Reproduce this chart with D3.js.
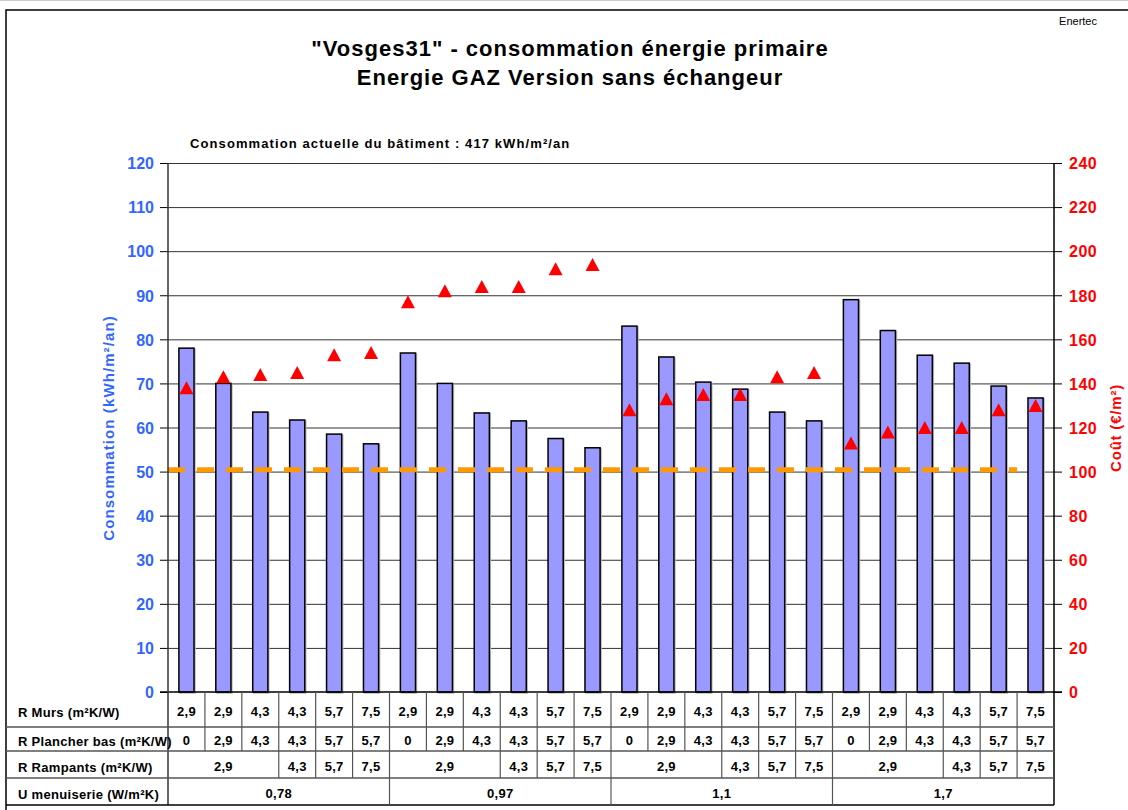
<!DOCTYPE html>
<html>
<head>
<meta charset="utf-8">
<script src="https://cdn.jsdelivr.net/npm/d3@7/dist/d3.min.js"></script>
<style>
  body { margin: 0; background: #fff; }
  svg { display: block; font-family: "Liberation Sans", Arial, sans-serif; }
  .tbl { font-size: 13px; font-weight: bold; fill: #000; letter-spacing: 0.3px; }
</style>
</head>
<body>
<div id="chart"></div>
<script>
// chart data
var consommation = [78, 70, 63.5, 61.7, 58.5, 56.3, 76.9, 70, 63.3, 61.5, 57.5, 55.4,
                    83, 76, 70.3, 68.7, 63.5, 61.5, 89, 82, 76.4, 74.6, 69.4, 66.7];
var cout = [138, 143, 144, 145, 153, 154, 177, 182, 184, 184, 192, 194,
            128, 133, 135, 135, 143, 145, 113, 118, 120, 120, 128, 130];
var objectif = 50.4;

var rMurs = ["2,9", "2,9", "4,3", "4,3", "5,7", "7,5"];
var rPlancher = ["0", "2,9", "4,3", "4,3", "5,7", "5,7"];
var rRampants = [{ label: "2,9", span: 3 }, { label: "4,3", span: 1 }, { label: "5,7", span: 1 }, { label: "7,5", span: 1 }];
var uMenuiserie = ["0,78", "0,97", "1,1", "1,7"];
var rowLabels = ["R Murs (m²K/W)", "R Plancher bas (m²K/W)", "R Rampants (m²K/W)", "U menuiserie (W/m²K)"];

var leftTicks = d3.range(0, 121, 10);
var rightTicks = d3.range(0, 241, 20);

var width = 1128, height = 810;
var plotLeft = 168, plotRight = 1054, plotTop = 163, plotBottom = 692;
var rowY = [692, 727, 751, 778, 805];
var blue = "#3366ff", red = "#ff0000";

var svg = d3.select("#chart").append("svg")
  .attr("width", width)
  .attr("height", height);

// frame
svg.append("line").attr("x1", 0).attr("x2", width).attr("y1", 0.5).attr("y2", 0.5)
  .attr("stroke", "#ccc");
svg.append("rect")
  .attr("x", 6).attr("y", 10)
  .attr("width", width + 10).attr("height", height + 10)
  .attr("fill", "none").attr("stroke", "#000").attr("stroke-width", 1.5);

svg.append("text")
  .attr("x", 1097).attr("y", 25)
  .attr("text-anchor", "end")
  .style("font-size", "11px")
  .text("Enertec");

svg.append("text")
  .attr("x", 570).attr("y", 56)
  .attr("text-anchor", "middle")
  .style("font-size", "22px").style("font-weight", "bold")
  .style("letter-spacing", "1px")
  .text("\"Vosges31\" - consommation énergie primaire");
svg.append("text")
  .attr("x", 570).attr("y", 85)
  .attr("text-anchor", "middle")
  .style("font-size", "22px").style("font-weight", "bold")
  .style("letter-spacing", "1px")
  .text("Energie GAZ Version sans échangeur");

svg.append("text")
  .attr("x", 190).attr("y", 148)
  .style("font-size", "13px").style("font-weight", "bold")
  .style("letter-spacing", "1.1px")
  .text("Consommation actuelle du bâtiment : 417 kWh/m²/an");

var x = d3.scaleBand()
  .domain(d3.range(consommation.length))
  .range([plotLeft, plotRight])
  .padding(0);

var yL = d3.scaleLinear().domain([0, 120]).range([plotBottom, plotTop]);
var yR = d3.scaleLinear().domain([0, 240]).range([plotBottom, plotTop]);

// grid
svg.append("g")
  .selectAll("line")
  .data(leftTicks.filter(d => d > 0))
  .enter().append("line")
  .attr("x1", plotLeft).attr("x2", plotRight)
  .attr("y1", d => yL(d) + 0.5).attr("y2", d => yL(d) + 0.5)
  .attr("stroke", "#333");

// bars
var barW = x.bandwidth() * 0.41;
var bars = svg.append("g");
bars.selectAll(".shadow")
  .data(consommation)
  .enter().append("rect")
  .attr("class", "shadow")
  .attr("x", (d, i) => x(i) + (x.bandwidth() - barW) / 2 + 1)
  .attr("y", d => yL(d) + 1)
  .attr("width", barW)
  .attr("height", d => plotBottom - yL(d))
  .attr("fill", "none")
  .attr("stroke", "#bbb")
  .attr("stroke-width", 1.5);
bars.selectAll(".bar")
  .data(consommation)
  .enter().append("rect")
  .attr("class", "bar")
  .attr("x", (d, i) => x(i) + (x.bandwidth() - barW) / 2)
  .attr("y", d => yL(d))
  .attr("width", barW)
  .attr("height", d => plotBottom - yL(d))
  .attr("fill", "#9999ff")
  .attr("stroke", "#000")
  .attr("stroke-width", 1.5);

// target dashed line
var line = d3.line()
  .x(d => d[0])
  .y(d => yL(d[1]));
svg.append("path")
  .datum([[plotLeft, objectif], [x(consommation.length - 1), objectif]])
  .attr("d", line)
  .attr("fill", "none")
  .attr("stroke", "#ff9900")
  .attr("stroke-width", 5)
  .attr("stroke-dasharray", "17,12");

// triangles
var tri = {
  draw: function(context, size) {
    var w = 14, h = 13;
    context.moveTo(0, -h / 2);
    context.lineTo(w / 2, h / 2);
    context.lineTo(-w / 2, h / 2);
    context.closePath();
  }
};
svg.append("g")
  .selectAll("path")
  .data(cout)
  .enter().append("path")
  .attr("d", d3.symbol().type(tri))
  .attr("transform", (d, i) => `translate(${x(i) + x.bandwidth() / 2}, ${yR(d)})`)
  .attr("fill", red);

// axes
var axisL = svg.append("g")
  .attr("transform", `translate(${plotLeft},0)`)
  .call(d3.axisLeft(yL).tickValues(leftTicks).tickSize(8).tickPadding(6).tickSizeOuter(0));
axisL.select(".domain").remove();
axisL.selectAll("line").attr("stroke", "#000");
axisL.selectAll("text")
  .attr("fill", blue)
  .attr("dy", "0.36em")
  .style("font-size", "16px").style("font-weight", "bold")
  .style("font-family", "'Liberation Sans', Arial, sans-serif");

var axisR = svg.append("g")
  .attr("transform", `translate(${plotRight},0)`)
  .call(d3.axisRight(yR).tickValues(rightTicks).tickSize(8).tickPadding(7).tickSizeOuter(0));
axisR.select(".domain").remove();
axisR.selectAll("line").attr("stroke", "#000");
axisR.selectAll("text")
  .attr("fill", red)
  .attr("dy", "0.36em")
  .style("font-size", "16px").style("font-weight", "bold")
  .style("letter-spacing", "0.5px")
  .style("font-family", "'Liberation Sans', Arial, sans-serif");

svg.append("line")
  .attr("x1", plotLeft - 8).attr("x2", plotRight + 8)
  .attr("y1", plotBottom).attr("y2", plotBottom)
  .attr("stroke", "#000").attr("stroke-width", 1.5);
svg.append("line")
  .attr("x1", plotLeft).attr("x2", plotLeft)
  .attr("y1", plotTop).attr("y2", rowY[4])
  .attr("stroke", "#333").attr("stroke-width", 1.5);
svg.append("line")
  .attr("x1", plotRight).attr("x2", plotRight)
  .attr("y1", plotTop).attr("y2", rowY[4])
  .attr("stroke", "#000").attr("stroke-width", 1.5);

svg.append("text")
  .attr("transform", `translate(114, 428) rotate(-90)`)
  .attr("text-anchor", "middle")
  .attr("fill", blue)
  .style("font-size", "15px").style("font-weight", "bold")
  .style("letter-spacing", "1.1px")
  .text("Consommation (kWh/m²/an)");
svg.append("text")
  .attr("transform", `translate(1121, 428) rotate(-90)`)
  .attr("text-anchor", "middle")
  .attr("fill", red)
  .style("font-size", "15px").style("font-weight", "bold")
  .style("letter-spacing", "0.8px")
  .text("Coût (€/m²)");

// data table
var table = svg.append("g");
rowY.slice(1).forEach(function(yy, r) {
  table.append("line")
    .attr("x1", 6).attr("x2", plotRight)
    .attr("y1", yy).attr("y2", yy)
    .attr("stroke", r === 3 ? "#000" : "#555").attr("stroke-width", 1.5);
});
rowLabels.forEach(function(lbl, r) {
  table.append("text")
    .attr("class", "tbl")
    .attr("x", 18)
    .attr("y", rowY[r] + (rowY[r + 1] - rowY[r]) / 2 + 7)
    .text(lbl);
});

var groupSize = rMurs.length;
var nGroups = uMenuiserie.length;
function cellText(row, xc, label) {
  table.append("text")
    .attr("class", "tbl")
    .attr("x", xc)
    .attr("y", rowY[row] + (rowY[row + 1] - rowY[row]) / 2 + 6)
    .attr("text-anchor", "middle")
    .text(label);
}
function vline(xx, r0, r1) {
  table.append("line")
    .attr("x1", xx).attr("x2", xx)
    .attr("y1", rowY[r0]).attr("y2", rowY[r1])
    .attr("stroke", "#555").attr("stroke-width", 1.2);
}

for (var g = 0; g < nGroups; g++) {
  for (var k = 0; k < groupSize; k++) {
    var idx = g * groupSize + k;
    var xc = x(idx) + x.bandwidth() / 2;
    cellText(0, xc, rMurs[k]);
    cellText(1, xc, rPlancher[k]);
    if (idx > 0) vline(x(idx), 0, 2);
  }
  var start = g * groupSize;
  rRampants.forEach(function(c) {
    var x0 = x(start), x1 = x(start + c.span - 1) + x.bandwidth();
    cellText(2, (x0 + x1) / 2, c.label);
    if (start > 0) vline(x0, 2, 3);
    start += c.span;
  });
  var gx0 = x(g * groupSize), gx1 = x(g * groupSize + groupSize - 1) + x.bandwidth();
  cellText(3, (gx0 + gx1) / 2, uMenuiserie[g]);
  if (g > 0) vline(gx0, 3, 4);
}
</script>
</body>
</html>
